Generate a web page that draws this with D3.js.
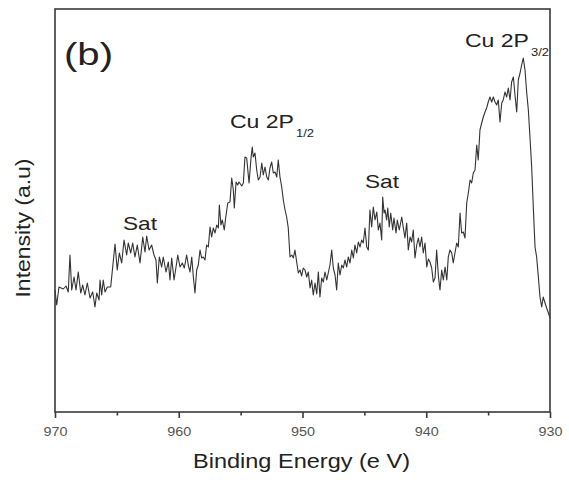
<!DOCTYPE html>
<html>
<head>
<meta charset="utf-8">
<script src="https://cdn.jsdelivr.net/npm/d3@7"></script>
<style>
  html, body { margin: 0; padding: 0; background: #fff; }
  svg { display: block; font-family: "Liberation Sans", Arial, sans-serif; }
</style>
</head>
<body>
<svg id="chart" width="569" height="480"></svg>
<script>
// ---- Data ----
const energy = [
970.00,969.86,969.68,969.33,969.11,968.93,968.79,968.65,968.46,968.30,968.12,967.92,967.76,967.58,967.39,967.17,966.95,966.77,966.63,966.44,966.36,966.23,966.10,965.96,965.77,965.50,965.15,964.97,964.80,964.61,964.42,964.21,964.08,963.88,963.72,963.54,963.35,963.13,962.91,962.73,962.59,962.40,962.19,962.00,961.84,961.73,961.57,961.38,961.25,961.03,960.84,960.71,960.57,960.38,960.17,
960.08,959.90,959.71,959.55,959.36,959.23,959.09,958.95,958.82,958.69,958.55,958.42,958.28,958.15,958.02,957.88,957.75,957.61,957.47,957.34,957.21,957.07,956.93,956.80,956.72,956.59,956.48,956.32,956.21,956.04,955.86,955.72,955.59,955.51,955.37,955.24,955.13,954.91,954.78,954.65,954.51,954.32,954.16,954.06,953.98,953.84,953.70,953.57,953.43,953.29,953.17,953.03,952.89,952.76,952.63,952.49,952.36,952.22,952.08,951.96,951.82,951.68,951.55,951.41,951.28,951.15,951.01,950.87,950.74,950.61,950.47,950.34,
950.20,950.07,949.94,949.80,949.66,949.53,949.39,949.26,949.13,948.99,948.85,948.72,948.59,948.45,948.32,948.18,948.04,947.92,947.78,947.64,947.51,947.37,947.24,947.11,946.97,946.83,946.70,946.57,946.43,946.30,946.16,946.02,945.89,945.76,945.62,945.49,945.35,945.22,945.09,944.95,944.81,944.68,944.55,944.41,944.28,944.14,944.00,943.87,943.74,943.60,943.52,943.41,943.33,943.20,943.11,942.99,942.87,942.71,942.61,942.44,942.34,942.18,941.98,941.85,941.72,941.58,941.45,941.31,941.18,941.05,940.91,940.77,940.64,940.51,940.37,940.24,940.10,939.96,939.83,939.70,939.56,939.43,939.29,
939.16,939.02,938.89,938.75,938.62,938.48,938.34,938.22,938.08,937.94,937.82,937.68,937.54,937.41,937.27,937.14,937.00,936.87,936.73,936.60,936.46,936.33,936.20,936.06,935.92,935.80,935.66,935.52,935.39,935.25,935.12,934.99,934.85,934.71,934.58,934.44,934.31,934.18,934.04,933.90,933.78,933.64,933.50,933.37,933.23,933.10,932.96,932.83,932.69,932.56,932.42,932.29,932.16,932.02,931.88,931.75,931.62,931.48,931.35,931.21,931.08,930.94,930.81,930.67,930.55,930.40,930.27,930.13,930.00
];
const intensity = [
121,106,124,122,125,119,156,121,134,121,139,118,126,116,128,113,119,104,118,111,131,116,131,119,124,124,167,141,158,148,171,156,168,158,168,154,166,148,174,159,175,161,166,156,151,128,154,144,154,139,149,131,153,131,148,
156,144,148,143,156,146,139,154,134,118,141,146,161,153,154,151,166,164,184,174,183,178,186,183,206,186,191,181,193,208,209,233,221,203,229,226,229,225,228,254,253,228,253,264,254,258,241,231,234,248,236,244,234,231,243,249,238,239,234,251,234,224,211,201,194,183,154,156,153,161,149,138,
141,135,143,141,134,139,123,131,116,128,117,139,114,133,129,139,131,138,146,161,143,136,121,148,136,146,143,151,144,154,148,161,153,166,158,169,164,171,168,183,164,161,201,184,204,191,199,181,188,171,214,198,201,191,203,184,198,181,193,178,191,181,194,183,173,188,161,174,169,181,153,166,173,164,174,158,168,144,152,149,143,129,133,
161,135,121,141,131,144,131,154,161,158,148,158,168,164,198,178,179,173,208,218,231,228,238,241,266,251,281,288,294,299,303,309,314,309,314,309,306,311,289,308,311,319,314,323,311,329,334,316,299,331,338,346,353,341,318,301,274,244,204,164,154,134,114,104,114,108,103,98,93
];
const xTicks = [970, 960, 950, 940, 930];
const xMinorTicks = [965, 955, 945, 935];
// peak labels anchored (left edge, baseline) in data coordinates
const peakLabels = [
  { main: "Sat",   sub: "",    e: 964.51, i: 181 },
  { main: "Cu 2P", sub: "1/2", e: 955.86, i: 283 },
  { main: "Sat",   sub: "",    e: 944.95, i: 223 },
  { main: "Cu 2P", sub: "3/2", e: 936.87, i: 364 }
];

// ---- Layout ----
const svg = d3.select("#chart");
const mLeft = 55, mRight = 550, mTop = 9, mBottom = 412;
const x = d3.scaleLinear().domain([970, 930]).range([mLeft, mRight]);
const y = d3.scaleLinear().domain([-1, 402]).range([mBottom, mTop]);
const ink = "#222";

// curve
const pts = energy.map((e, k) => [e, intensity[k]]);
svg.append("path")
  .datum(pts)
  .attr("fill", "none")
  .attr("stroke", "#333")
  .attr("stroke-width", 1.1)
  .attr("stroke-linejoin", "round")
  .attr("d", d3.line().x(d => x(d[0])).y(d => y(d[1])));

// frame
svg.append("rect")
  .attr("x", mLeft).attr("y", mTop)
  .attr("width", mRight - mLeft).attr("height", mBottom - mTop)
  .attr("fill", "none").attr("stroke", "#3a3a3a").attr("stroke-width", 1.6);

// x axis
const gx = svg.append("g").attr("transform", `translate(0,${mBottom})`)
  .call(d3.axisBottom(x).tickValues(xTicks).tickSize(6).tickFormat(d3.format("d")));
gx.select(".domain").remove();
gx.selectAll(".tick line").attr("stroke", "#3a3a3a").attr("stroke-width", 1.6);
gx.selectAll(".tick text")
  .attr("y", 23.5).attr("dy", null)
  .attr("fill", "#555").attr("font-size", 12)
  .attr("font-family", "Liberation Sans, Arial, sans-serif")
  .attr("textLength", 24).attr("lengthAdjust", "spacingAndGlyphs");

const gm = svg.append("g").attr("transform", `translate(0,${mBottom})`)
  .call(d3.axisBottom(x).tickValues(xMinorTicks).tickSize(3.5).tickFormat(""));
gm.select(".domain").remove();
gm.selectAll(".tick line").attr("stroke", "#3a3a3a").attr("stroke-width", 1.6);

// axis titles
svg.append("text")
  .attr("x", 301.5).attr("y", 468)
  .attr("text-anchor", "middle")
  .attr("font-size", 21).attr("fill", ink)
  .attr("textLength", 217).attr("lengthAdjust", "spacingAndGlyphs")
  .text("Binding Energy (e V)");

svg.append("text")
  .attr("transform", "translate(30,228) rotate(-90)")
  .attr("text-anchor", "middle")
  .attr("font-size", 20).attr("fill", ink)
  .attr("textLength", 139).attr("lengthAdjust", "spacingAndGlyphs")
  .text("Intensity (a.u)");

// panel tag
svg.append("text")
  .attr("x", 64).attr("y", 65)
  .attr("font-size", 32).attr("fill", ink)
  .attr("textLength", 49).attr("lengthAdjust", "spacingAndGlyphs")
  .text("(b)");

// peak labels
const mainWidth = { "Sat": 34, "Cu 2P": 64 };
peakLabels.forEach(p => {
  const x0 = x(p.e), by = y(p.i);
  const w = mainWidth[p.main];
  svg.append("text")
    .attr("x", x0).attr("y", by)
    .attr("font-size", 19).attr("fill", ink)
    .attr("textLength", w).attr("lengthAdjust", "spacingAndGlyphs")
    .text(p.main);
  if (p.sub) {
    svg.append("text")
      .attr("x", x0 + w + 2).attr("y", by + 8.5)
      .attr("font-size", 11.5).attr("fill", ink)
      .attr("textLength", 18).attr("lengthAdjust", "spacingAndGlyphs")
      .text(p.sub);
  }
});
</script>
</body>
</html>
